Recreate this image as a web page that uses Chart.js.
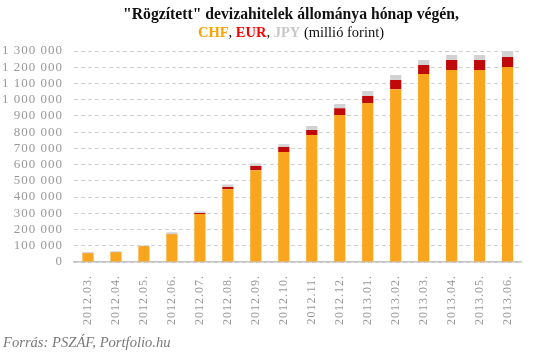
<!DOCTYPE html>
<html>
<head>
<meta charset="utf-8">
<script src="https://cdn.jsdelivr.net/npm/chart.js@4"></script>
<style>
  html, body { margin: 0; padding: 0; background: #fff; }
  #wrap { position: relative; width: 535px; height: 357px; overflow: hidden; }
  #c { position: absolute; left: 0; top: 0; }
  .t { position: absolute; left: 0; width: 582px; text-align: center; font-family: "Liberation Serif", serif; color: #111; white-space: nowrap; }
  #t1 { top: 5px; font-size: 15.7px; font-weight: bold; }
  #t2 { top: 24px; font-size: 14.5px; }
  #t2 b { font-weight: bold; }
  #src { position: absolute; left: 3px; top: 334px; font-family: "Liberation Serif", serif; font-style: italic; font-size: 14.6px; color: #7a7a7a; white-space: nowrap; }
</style>
</head>
<body>
<div id="wrap">
  <canvas id="c" width="535" height="357"></canvas>
  <div class="t" id="t1">"Rögzített" devizahitelek állománya hónap végén,</div>
  <div class="t" id="t2"><b style="color:#FFA200">CHF</b>, <b style="color:#FF0000">EUR</b>, <b style="color:#C8C8C8">JPY</b> (millió forint)</div>
  <div id="src">Forrás: PSZÁF, Portfolio.hu</div>
</div>
<script>
const categories = ["2012.03.", "2012.04.", "2012.05.", "2012.06.", "2012.07.", "2012.08.", "2012.09.", "2012.10.", "2012.11.", "2012.12.", "2013.01.", "2013.02.", "2013.03.", "2013.04.", "2013.05.", "2013.06."];
const chfValues = [54000, 60000, 97000, 171000, 296000, 448000, 566000, 677000, 782000, 905000, 979000, 1065000, 1158000, 1183000, 1183000, 1201000];
const eurValues = [1000, 1000, 1000, 1000, 6000, 14000, 25000, 31000, 31000, 43000, 43000, 56000, 56000, 62000, 62000, 62000];
const jpyValues = [6000, 6000, 4000, 12000, 10000, 16000, 16000, 18000, 25000, 25000, 31000, 31000, 31000, 31000, 31000, 37000];
const yMax = 1300000;
const yStep = 100000;

function fmt(v) {
  return String(v).replace(/\B(?=(\d{3})+(?!\d))/g, " ");
}

const spacing = {
  id: 'spacing',
  beforeDraw(chart) { chart.ctx.letterSpacing = '1px'; },
  afterDraw(chart) { chart.ctx.letterSpacing = '0px'; }
};

new Chart(document.getElementById('c'), {
  type: 'bar',
  data: {
    labels: categories,
    datasets: [
      { label: 'CHF', data: chfValues, backgroundColor: '#F9A61E' },
      { label: 'EUR', data: eurValues, backgroundColor: '#C00A0A' },
      { label: 'JPY', data: jpyValues, backgroundColor: '#D2D2D2' }
    ]
  },
  options: {
    responsive: false,
    animation: false,
    devicePixelRatio: 1,
    layout: { padding: { top: 51, right: 0, left: 0, bottom: 0 } },
    datasets: { bar: { barPercentage: 0.4, categoryPercentage: 1.0 } },
    plugins: { legend: { display: false }, title: { display: false }, tooltip: { enabled: false } },
    scales: {
      x: {
        stacked: true,
        grid: { display: false, drawTicks: false },
        border: { display: true, color: '#C4C4C4', width: 1.5 },
        ticks: {
          minRotation: 90, maxRotation: 90, padding: 13,
          color: '#999999',
          font: { family: 'Liberation Serif', size: 12 }
        },
        afterFit(scale) { scale.height = 95; }
      },
      y: {
        stacked: true,
        min: 0, max: yMax,
        grid: { color: '#D0D0D0', lineWidth: 1, drawTicks: false, borderDash: [4, 3] },
        border: { display: false, dash: [4, 3] },
        ticks: {
          stepSize: yStep,
          autoSkip: false,
          padding: 11,
          color: '#999999',
          font: { family: 'Liberation Serif', size: 13 },
          callback: (v) => fmt(v)
        },
        afterFit(scale) { scale.width = 74; }
      }
    }
  },
  plugins: [spacing]
});
</script>
</body>
</html>
